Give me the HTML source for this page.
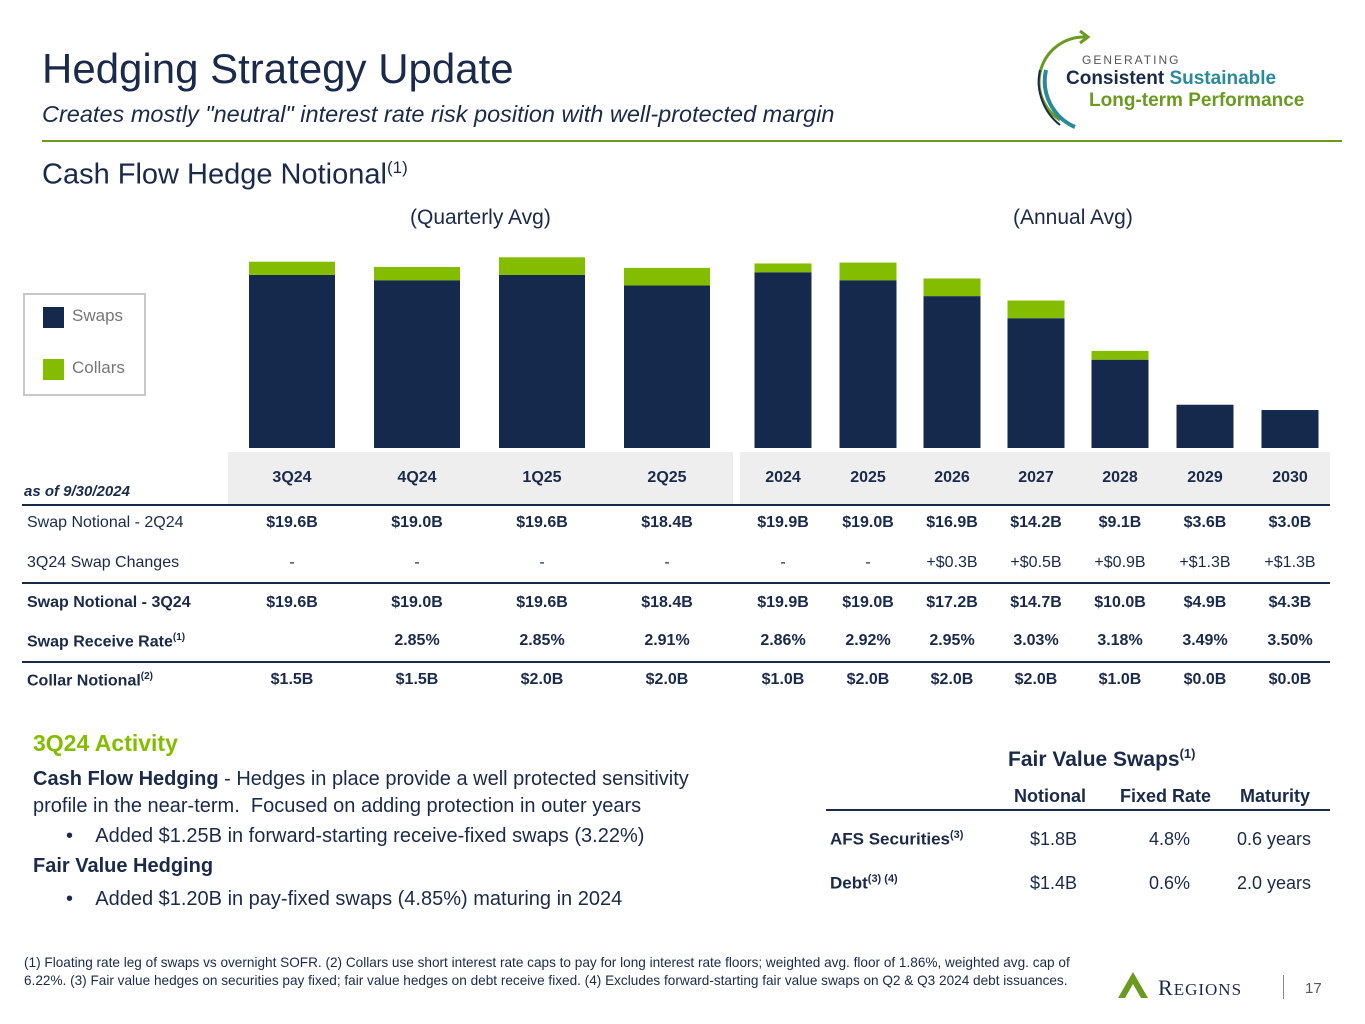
<!DOCTYPE html>
<html><head><meta charset="utf-8"><style>
body{margin:0;width:1365px;height:1024px;background:#fff;font-family:"Liberation Sans",sans-serif;position:relative;overflow:hidden;color:#1a2a4a}
.a{position:absolute;white-space:nowrap}
.c{text-align:center}
.r{text-align:right}
.row{font-size:16px}
.b{font-weight:bold}
</style></head><body>
<div class="a" style="left:42px;top:45px;font-size:42px;color:#1a2a4a">Hedging Strategy Update</div>
<div class="a" style="left:42px;top:101px;font-size:23.5px;font-style:italic;color:#1a2a4a">Creates mostly "neutral" interest rate risk position with well-protected margin</div>
<svg class="a" style="left:1030px;top:25px" width="90" height="105"><path d="M55 12 A45 45 0 0 0 30 95" fill="none" stroke="#6a9a1f" stroke-width="3"/><path d="M50 6 L58 12 L50 18" fill="none" stroke="#6a9a1f" stroke-width="3"/><path d="M16 45 A50 50 0 0 0 45 102" fill="none" stroke="#2a8a9a" stroke-width="4"/><path d="M10 45 A55 55 0 0 0 30 100" fill="none" stroke="#1a2a4a" stroke-width="2"/></svg>
<div class="a" style="left:1082px;top:53px;font-size:12px;letter-spacing:2px;color:#555">GENERATING</div>
<div class="a b" style="left:1066px;top:68px;font-size:19px;color:#1a2a4a">Consistent <span style="color:#2a8a9a">Sustainable</span></div>
<div class="a b" style="left:1089px;top:90px;font-size:19px;color:#6a9a1f">Long-term Performance</div>
<div class="a" style="left:42px;top:140px;width:1300px;height:2px;background:#6a9a1f"></div>
<div class="a" style="left:42px;top:158px;font-size:29px;color:#1a2a4a">Cash Flow Hedge Notional<sup style="font-size:17px">(1)</sup></div>
<div class="a" style="left:410px;top:206px;font-size:21px;color:#1a2a4a">(Quarterly Avg)</div>
<div class="a" style="left:1013px;top:206px;font-size:21px;color:#1a2a4a">(Annual Avg)</div>
<div class="a" style="left:23px;top:293px;width:119px;height:99px;border:2px solid #c8c8c8"></div>
<div class="a" style="left:43px;top:307px;width:21px;height:21px;background:#14294b"></div>
<div class="a" style="left:72px;top:306px;font-size:17px;color:#777">Swaps</div>
<div class="a" style="left:43px;top:359px;width:21px;height:21px;background:#84bd00"></div>
<div class="a" style="left:72px;top:358px;font-size:17px;color:#777">Collars</div>
<svg class="a" id="chart" style="left:0;top:0" width="1365" height="460"></svg>
<div class="a" style="left:228px;top:452px;width:505px;height:53px;background:#eeeeee"></div>
<div class="a" style="left:740px;top:452px;width:590px;height:53px;background:#eeeeee"></div>
<div class="a" style="left:22px;top:504px;width:1308px;height:2px;background:#1a2a4a"></div>
<div class="a" style="left:22px;top:582px;width:1308px;height:2px;background:#1a2a4a"></div>
<div class="a" style="left:22px;top:661px;width:1308px;height:2px;background:#1a2a4a"></div>
<div class="a b" style="left:24px;top:483px;font-size:15px;font-style:italic">as of 9/30/2024</div>
<div id="tbl"></div>
<div class="a b" style="left:33px;top:730px;font-size:23px;color:#84bd00">3Q24 Activity</div>
<div class="a" style="left:33px;top:766px;font-size:20px;line-height:27px;color:#1a2a4a;white-space:normal;width:695px"><b>Cash Flow Hedging</b> - Hedges in place provide a well protected sensitivity profile in the near-term.&nbsp; Focused on adding protection in outer years</div>
<div class="a" style="left:66px;top:825px;font-size:20px">•&nbsp;&nbsp;&nbsp;&nbsp;Added $1.25B in forward-starting receive-fixed swaps (3.22%)</div>
<div class="a b" style="left:33px;top:855px;font-size:20px">Fair Value Hedging</div>
<div class="a" style="left:66px;top:888px;font-size:20px">•&nbsp;&nbsp;&nbsp;&nbsp;Added $1.20B in pay-fixed swaps (4.85%) maturing in 2024</div>
<div class="a b" style="left:1008px;top:746px;font-size:21px">Fair Value Swaps<sup style="font-size:13px">(1)</sup></div>
<div class="a b" style="left:1014px;top:786px;font-size:18px">Notional</div>
<div class="a b" style="left:1120px;top:786px;font-size:18px">Fixed Rate</div>
<div class="a b" style="left:1240px;top:786px;font-size:18px">Maturity</div>
<div class="a" style="left:826px;top:809px;width:504px;height:2px;background:#1a2a4a"></div>
<div class="a b" style="left:830px;top:829px;font-size:17px">AFS Securities<sup style="font-size:11px">(3)</sup></div>
<div class="a" style="left:1030px;top:829px;font-size:18px">$1.8B</div>
<div class="a" style="left:1149px;top:829px;font-size:18px">4.8%</div>
<div class="a" style="left:1237px;top:829px;font-size:18px">0.6 years</div>
<div class="a b" style="left:830px;top:873px;font-size:17px">Debt<sup style="font-size:11px">(3) (4)</sup></div>
<div class="a" style="left:1030px;top:873px;font-size:18px">$1.4B</div>
<div class="a" style="left:1149px;top:873px;font-size:18px">0.6%</div>
<div class="a" style="left:1237px;top:873px;font-size:18px">2.0 years</div>
<div class="a" style="left:24px;top:954px;width:1075px;white-space:normal;font-size:13.6px;line-height:18px">(1) Floating rate leg of swaps vs overnight SOFR. (2) Collars use short interest rate caps to pay for long interest rate floors; weighted avg. floor of 1.86%, weighted avg. cap of 6.22%. (3) Fair value hedges on securities pay fixed; fair value hedges on debt receive fixed. (4) Excludes forward-starting fair value swaps on Q2 &amp; Q3 2024 debt issuances.</div>
<svg class="a" style="left:1113px;top:970px" width="40" height="30"><polygon points="5,28 20,2 35,28" fill="#6a9a1f"/><polygon points="12,28 20,14 28,28" fill="#fff"/></svg>
<div class="a" style="left:1158px;top:975px;font-size:22px;font-family:'Liberation Serif',serif;letter-spacing:1px;color:#1a2a4a">R<span style="font-size:17px">EGIONS</span></div>
<div class="a" style="left:1283px;top:975px;width:1px;height:24px;background:#888"></div>
<div class="a" style="left:1305px;top:980px;font-size:15px;color:#555">17</div>
<script>
const categories=["3Q24","4Q24","1Q25","2Q25","2024","2025","2026","2027","2028","2029","2030"];
const swaps=[19.6,19.0,19.6,18.4,19.9,19.0,17.2,14.7,10.0,4.9,4.3];
const collars=[1.5,1.5,2.0,2.0,1.0,2.0,2.0,2.0,1.0,0.0,0.0];
const swap2Q24=["$19.6B","$19.0B","$19.6B","$18.4B","$19.9B","$19.0B","$16.9B","$14.2B","$9.1B","$3.6B","$3.0B"];
const swapChanges=["-","-","-","-","-","-","+$0.3B","+$0.5B","+$0.9B","+$1.3B","+$1.3B"];
const swap3Q24=["$19.6B","$19.0B","$19.6B","$18.4B","$19.9B","$19.0B","$17.2B","$14.7B","$10.0B","$4.9B","$4.3B"];
const receiveRate=["","2.85%","2.85%","2.91%","2.86%","2.92%","2.95%","3.03%","3.18%","3.49%","3.50%"];
const collarNotional=["$1.5B","$1.5B","$2.0B","$2.0B","$1.0B","$2.0B","$2.0B","$2.0B","$1.0B","$0.0B","$0.0B"];
const centers=[292,417,542,667,783,868,952,1036,1120,1205,1290];
const base=448,scale=8.83;
const y=v=>v*scale;
const svg=document.getElementById('chart');
const NS='http://www.w3.org/2000/svg';
categories.forEach((c,i)=>{
  const w=i<4?86:57;
  const hs=y(swaps[i]),hc=y(collars[i]);
  const r=document.createElementNS(NS,'rect');
  r.setAttribute('x',centers[i]-w/2);r.setAttribute('y',base-hs);r.setAttribute('width',w);r.setAttribute('height',hs);r.setAttribute('fill','#14294b');
  
  
  svg.appendChild(r);
  if(hc>0){const q=document.createElementNS(NS,'rect');
  q.setAttribute('x',centers[i]-w/2);q.setAttribute('y',base-hs-hc);q.setAttribute('width',w);q.setAttribute('height',hc);q.setAttribute('fill','#84bd00');
  
  
  svg.appendChild(q);}
});
const tbl=document.getElementById('tbl');
function cell(txt,x,top,bold,name){
  const d=document.createElement('div');
  d.className='a c row'+(bold?' b':'');
  d.style.left=(x-60)+'px';d.style.width='120px';d.style.top=top+'px';
  d.textContent=txt;
  
  
  tbl.appendChild(d);
}
const rows=[[categories,469,true,'header'],[swap2Q24,514,true,'swap-2q24'],[swapChanges,554,false,'swap-changes'],[swap3Q24,594,true,'swap-3q24'],[receiveRate,632,true,'receive-rate'],[collarNotional,671,true,'collar-notional']];
rows.forEach(r=>r[0].forEach((t,i)=>cell(t,centers[i],r[1],r[2],r[3]+'-'+categories[i])));
const labels=[["Swap Notional - 2Q24",514,false],["3Q24 Swap Changes",554,false],["Swap Notional - 3Q24",594,true],["Swap Receive Rate<sup style='font-size:10px'>(1)</sup>",632,true],["Collar Notional<sup style='font-size:10px'>(2)</sup>",671,true]];
labels.forEach((l,i)=>{const d=document.createElement('div');d.className='a row'+(l[2]?' b':'');d.style.left='27px';d.style.top=l[1]+'px';d.innerHTML=l[0];


tbl.appendChild(d);});
</script>
</body></html>
